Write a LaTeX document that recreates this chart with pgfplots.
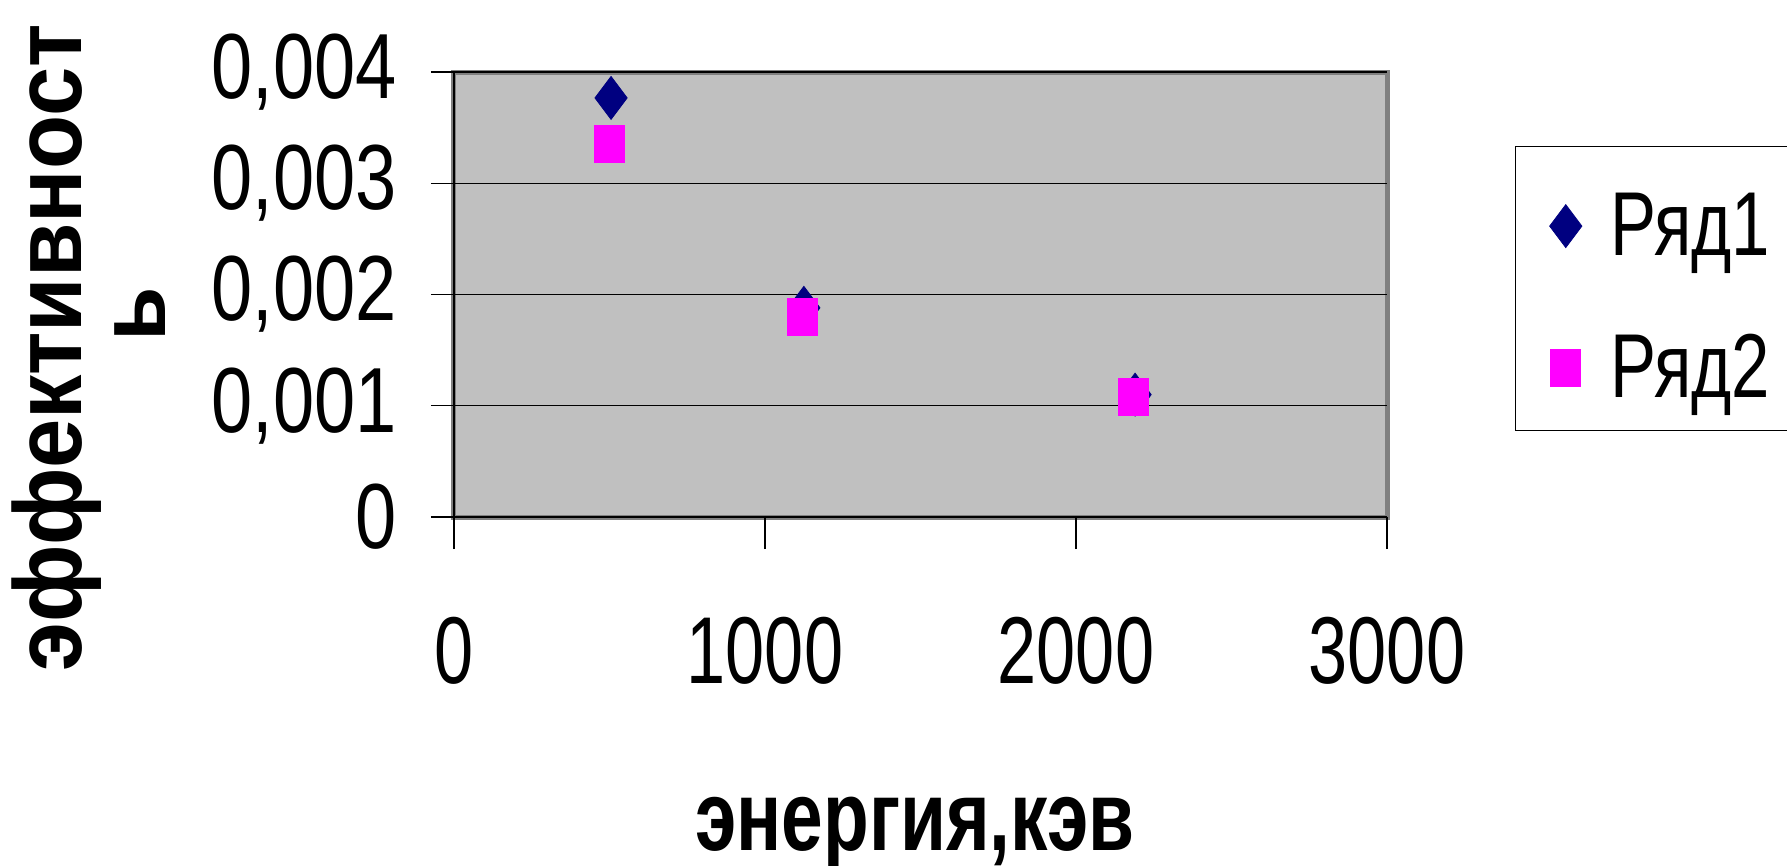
\documentclass[border=0pt]{standalone}
\usepackage{pgfplots}
\pgfplotsset{compat=1.18}
\usepackage{fontspec}
\setmainfont{Liberation Sans}
\newfontfamily\ytickfont{Liberation Sans}[FakeStretch=0.80]
\newfontfamily\xtickfont{Liberation Sans}[FakeStretch=0.74]
\newfontfamily\legfont{Liberation Sans}[FakeStretch=0.76]
\newfontfamily\xlabfont{Liberation Sans}[FakeStretch=0.756]
\newfontfamily\ylabfont{Liberation Sans}[FakeStretch=0.92]
\definecolor{navyc}{HTML}{000080}
\definecolor{magc}{HTML}{FF00FF}
\definecolor{plotgray}{HTML}{C0C0C0}
\definecolor{bordergray}{HTML}{808080}
\begin{document}
\begin{tikzpicture}
\useasboundingbox (0,0) rectangle (714.8pt,346pt);
\begin{axis}[
  at={(181.6pt,139.2pt)}, anchor=south west,
  scale only axis, width=373.2pt, height=178pt,
  xmin=0, xmax=3000, ymin=0, ymax=0.004,
  scaled y ticks=false, scaled x ticks=false,
  axis x line*=bottom, axis y line*=left,
  axis line style={black, line width=0.8pt, -},
  axis background/.style={fill=plotgray, draw=bordergray, line width=2pt},
  ymajorgrids, major grid style={black, line width=0.5pt},
  tick align=outside,
  major tick style={black, line width=0.5pt},
  xtick style={/pgfplots/major tick length=12.8pt},
  ytick style={/pgfplots/major tick length=9.2pt},
  xtick={0,1000,2000,3000},
  xticklabels={0,1000,2000,3000},
  ytick={0,0.001,0.002,0.003,0.004},
  yticklabels={{0},{0,001},{0,002},{0,003},{0,004}},
  xticklabel style={font=\xtickfont\fontsize{38}{40}\selectfont, anchor=north, inner sep=0pt, yshift=-35.6pt},
  yticklabel style={font=\ytickfont\fontsize{37}{40}\selectfont, anchor=east, inner sep=0pt, xshift=-18.4pt},
  every axis x label/.style={at={(axis description cs:0.494,-0.749)}, anchor=base, font=\xlabfont\bfseries\fontsize{39.6}{42}\selectfont},
  every axis y label/.style={at={(axis description cs:-0.392,0.38)}, rotate=90, anchor=center, align=center, font=\ylabfont\bfseries\fontsize{38.5}{33.6}\selectfont},
  xlabel={энергия,кэв},
  ylabel={эффективност\\\hspace*{27pt}ь},
  clip=false,
  legend style={at={(axis description cs:1.1372,0.8337)}, anchor=north west, draw=black, line width=0.5pt, fill=white,
    inner xsep=13.6pt, inner ysep=3pt, row sep=6pt, /tikz/column sep=11.4pt,
    nodes={inner sep=0pt, text height=40.6pt, text depth=10.2pt}, font=\legfont\fontsize{36.3}{40}\selectfont, cells={anchor=center}},
  legend image code/.code={\path[draw=none, fill=none] (0pt,-16pt) rectangle (12pt,16pt); \draw[#1] plot coordinates {(6pt,-3.4pt)};},
]
\addplot[only marks, mark=diamond*, mark size=8.6pt, color=navyc, mark options={fill=navyc, draw=navyc, line width=0.3pt}]
  coordinates {(505,0.003767) (1125,0.00188) (2190,0.00110)};
\addlegendentry{Ряд1}
\addplot[only marks, mark=square*, mark size=7.4pt, color=magc, mark options={fill=magc, draw=magc, line width=0.3pt, xscale=0.81}]
  coordinates {(500,0.00335) (1119,0.00180) (2183,0.001076)};
\addlegendentry{Ряд2}
\end{axis}
\end{tikzpicture}
\end{document}
